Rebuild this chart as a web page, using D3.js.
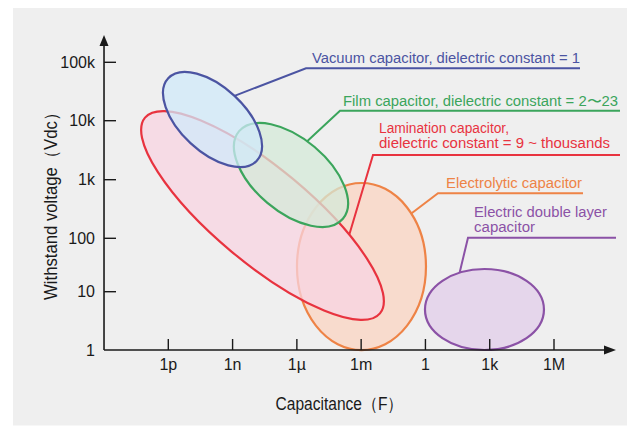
<!DOCTYPE html>
<html>
<head>
<meta charset="utf-8">
<script src="https://cdn.jsdelivr.net/npm/d3@7"></script>
<style>
  body { margin: 0; background: #fff; }
  text { font-family: "Liberation Sans", Arial, Helvetica, sans-serif; }
</style>
</head>
<body>
<div id="chart"></div>
<script>
///////////// Data //////////////
var cap_ticks = [1e-12, 1e-9, 1e-6, 1e-3, 1, 1e3, 1e6];
var cap_labels = ['1p', '1n', '1µ', '1m', '1', '1k', '1M'];
var volt_ticks = [1, 10, 100, 1e3, 1e4, 1e5];
var volt_labels = ['1', '10', '100', '1k', '10k', '100k'];

// capacitor types, in drawing order
var cap_types = ['electrolytic', 'lamination', 'film', 'vacuum', 'edlc'];
var type_names = [
  ['Electrolytic capacitor'],
  ['Lamination capacitor,', 'dielectric constant = 9 ~ thousands'],
  ['Film capacitor, dielectric constant = 2〜23'],
  ['Vacuum capacitor, dielectric constant = 1'],
  ['Electric double layer', 'capacitor']
];
// centre of each region (F, Vdc)
var center_cap = [1.035e-3, 2.49e-8, 5.32e-7, 1.156e-10, 569];
var center_volt = [29.6, 245, 1202, 10495, 4.95];
// one end of the long axis of each region (F, Vdc)
var end_cap = [1.035e-3, 7.57e-3, 1.403e-4, 1.349e-8, 3.40e5];
var end_volt = [879, 4.25, 215, 2099, 4.95];
// short axis / long axis
var width_ratio = [0.772, 0.311, 0.539, 0.534, 0.681];

///////////// Layout //////////////
const svg_width = 627, svg_height = 426;
var stroke_color = {
  electrolytic: '#ee8346', lamination: '#e8333f', film: '#3ba55c',
  vacuum: '#4b54a2', edlc: '#8b52a6'
};
var fill_color = {
  electrolytic: 'rgba(251,212,194,0.75)', lamination: 'rgba(248,212,226,0.75)',
  film: 'rgba(212,234,216,0.75)', vacuum: 'rgba(208,233,249,0.75)',
  edlc: 'rgba(226,206,234,0.75)'
};
// leader lines and label placement (pixels)
var leaders = {
  electrolytic: { t: 50.6, elbow: [438, 193.3], end: 583, tx: 446, ty: [188], tw: [136] },
  lamination: { t: -58.9, elbow: [373, 155], end: 620, tx: 379, ty: [133, 148], tw: [130, 231] },
  film: { t: -98, elbow: [340, 110.7], end: 620, tx: 343, ty: [106], tw: [275] },
  vacuum: { t: -90, elbow: [306, 68.3], end: 580, tx: 312, ty: [62.7], tw: [268] },
  edlc: { t: -114.7, elbow: [468, 237.7], end: 616, tx: 474, ty: [216.7, 232], tw: [133, 61] }
};

var svg = d3.select('#chart').append('svg')
  .attr('width', svg_width)
  .attr('height', svg_height);

// grey panel
svg.append('rect')
  .attr('x', 13).attr('y', 8)
  .attr('width', svg_width - 13).attr('height', 417.5)
  .attr('fill', '#efefef');

var x = d3.scaleLog().domain([1e-12, 1e6]).range([168.3, 554]);
var y = d3.scaleLog().domain(volt_ticks).range([350, 291.7, 238.3, 179.7, 120.7, 62.3]);

var x0 = x(1e-15), y0 = y(1);

///////////// Regions //////////////
var regions = cap_types.map(function(k, i){
  var cx = x(center_cap[i]), cy = y(center_volt[i]);
  var ex = x(end_cap[i]), ey = y(end_volt[i]);
  var a = Math.hypot(ex - cx, ey - cy);
  return {
    key: k, cx: cx, cy: cy, a: a, b: a * width_ratio[i],
    angle: Math.atan2(ey - cy, ex - cx)
  };
});

svg.append('g').selectAll('ellipse')
  .data(regions)
  .join('ellipse')
  .attr('transform', d => `translate(${d.cx},${d.cy}) rotate(${d.angle * 180 / Math.PI})`)
  .attr('rx', d => d.a)
  .attr('ry', d => d.b)
  .attr('fill', d => fill_color[d.key])
  .attr('stroke', d => stroke_color[d.key])
  .attr('stroke-width', 2.2);

///////////// Axes //////////////
var axis_color = '#1a1a1a';
svg.append('line')
  .attr('x1', x0).attr('y1', y0).attr('x2', x0).attr('y2', 42)
  .attr('stroke', axis_color).attr('stroke-width', 1.6);
svg.append('path')
  .attr('d', `M${x0},35 L${x0 - 4.5},46 L${x0 + 4.5},46 Z`)
  .attr('fill', axis_color);
svg.append('line')
  .attr('x1', x0).attr('y1', y0).attr('x2', 608).attr('y2', y0)
  .attr('stroke', axis_color).attr('stroke-width', 1.6);
svg.append('path')
  .attr('d', `M616,${y0} L604,${y0 - 4.5} L604,${y0 + 4.5} Z`)
  .attr('fill', axis_color);

// y ticks
svg.append('g').selectAll('line')
  .data(volt_ticks.slice(1))
  .join('line')
  .attr('x1', x0).attr('x2', x0 + 12)
  .attr('y1', d => y(d)).attr('y2', d => y(d))
  .attr('stroke', axis_color).attr('stroke-width', 1.4);
svg.append('g').selectAll('text')
  .data(volt_ticks)
  .join('text')
  .attr('x', 95)
  .attr('y', d => y(d))
  .attr('dy', '0.36em')
  .attr('text-anchor', 'end')
  .attr('font-size', 16)
  .attr('fill', '#1a1a1a')
  .text((d, i) => volt_labels[i]);

// x ticks
svg.append('g').selectAll('line')
  .data(cap_ticks)
  .join('line')
  .attr('x1', d => x(d)).attr('x2', d => x(d))
  .attr('y1', y0).attr('y2', y0 - 11)
  .attr('stroke', axis_color).attr('stroke-width', 1.4);
svg.append('g').selectAll('text')
  .data(cap_ticks)
  .join('text')
  .attr('x', d => x(d))
  .attr('y', 370)
  .attr('text-anchor', 'middle')
  .attr('font-size', 16)
  .attr('fill', '#1a1a1a')
  .text((d, i) => cap_labels[i]);

// axis titles
svg.append('text')
  .attr('x', 339.5).attr('y', 410)
  .attr('text-anchor', 'middle')
  .attr('font-size', 17.5)
  .attr('fill', '#1a1a1a')
  .attr('textLength', 128).attr('lengthAdjust', 'spacingAndGlyphs')
  .text('Capacitance（F）');
svg.append('text')
  .attr('transform', 'translate(57,202) rotate(-90)')
  .attr('text-anchor', 'middle')
  .attr('font-size', 17.5)
  .attr('fill', '#1a1a1a')
  .attr('textLength', 196).attr('lengthAdjust', 'spacingAndGlyphs')
  .text('Withstand voltage（Vdc）');

///////////// Leaders and labels //////////////
regions.forEach(function(r, i){
  var L = leaders[r.key];
  var t = L.t * Math.PI / 180;
  var ca = Math.cos(r.angle), sa = Math.sin(r.angle);
  var px = r.cx + r.a * Math.cos(t) * ca - r.b * Math.sin(t) * sa;
  var py = r.cy + r.a * Math.cos(t) * sa + r.b * Math.sin(t) * ca;
  svg.append('path')
    .attr('d', `M${px},${py} L${L.elbow[0]},${L.elbow[1]} L${L.end},${L.elbow[1]}`)
    .attr('fill', 'none')
    .attr('stroke', stroke_color[r.key])
    .attr('stroke-width', 2);
  type_names[i].forEach(function(line, j){
    svg.append('text')
      .attr('x', L.tx).attr('y', L.ty[j])
      .attr('font-size', 14)
      .attr('fill', stroke_color[r.key])
      .attr('textLength', L.tw[j]).attr('lengthAdjust', 'spacingAndGlyphs')
      .text(line);
  });
});
</script>
</body>
</html>
